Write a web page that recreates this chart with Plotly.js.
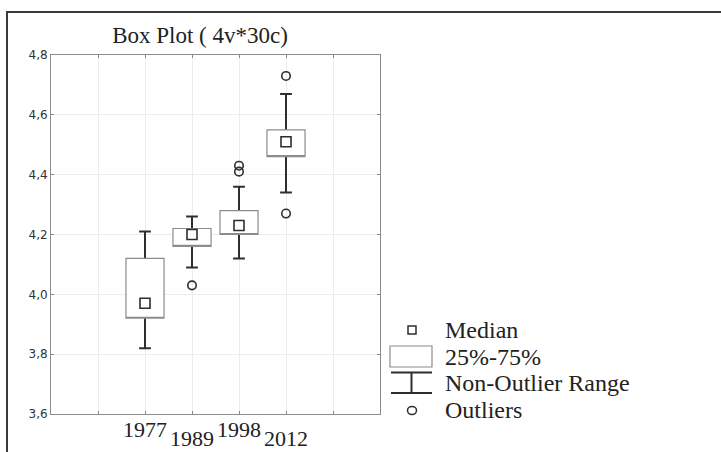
<!DOCTYPE html>
<html>
<head>
<meta charset="utf-8">
<script src="https://cdn.plot.ly/plotly-3.0.1.min.js"></script>
<style>html,body{margin:0;padding:0;background:#fff;}#chart{width:721px;height:452px;}</style>
</head>
<body>
<div id="chart"></div>
<script>
// ---- data ----
const categories = ['1977', '1989', '1998', '2012'];
const q1 = [3.92, 4.16, 4.20, 4.46];
const median = [3.97, 4.20, 4.23, 4.51];
const q3 = [4.12, 4.22, 4.28, 4.55];
const lowerWhisker = [3.82, 4.09, 4.12, 4.34];
const upperWhisker = [4.21, 4.26, 4.36, 4.67];
const outliers = [[], [4.03], [4.41, 4.43], [4.27, 4.73]];
const legendLabels = ['Median', '25%-75%', 'Non-Outlier Range', 'Outliers'];
const titleText = 'Box Plot ( 4v*30c)';

// ---- layout geometry ----
const L = 51, R = 380, T = 55, B = 414, WID = 721, HEI = 452;
const PW = R - L, PH = B - T;
const PX = x => (x - L) / PW;
const PY = y => (B - y) / PH;
const DARK = '#2e2e2e', GRAYBOX = '#8c8c8c';
const serif = 'Liberation Serif, Times New Roman, serif';

const pos = categories.map((_, i) => i);

const outX = [], outY = [];
outliers.forEach((arr, i) => arr.forEach(v => { outX.push(pos[i]); outY.push(v); }));

const traces = [
  { // whiskers: drawn from the median outwards, inner part hidden by the box fill
    type: 'box', x: pos, q1: median, median: median, q3: median,
    lowerfence: lowerWhisker, upperfence: upperWhisker,
    width: 0.5, whiskerwidth: 1.1,
    line: { color: DARK, width: 2 }, fillcolor: '#ffffff',
    hoverinfo: 'skip', showlegend: false
  },
  { // 25%-75% boxes
    type: 'box', x: pos, q1: q1, median: q1, q3: q3,
    lowerfence: q1, upperfence: q3,
    width: 0.81, whiskerwidth: 0,
    line: { color: GRAYBOX, width: 1.2 }, fillcolor: '#ffffff',
    hoverinfo: 'skip', showlegend: false
  },
  { // medians
    type: 'scatter', mode: 'markers', x: pos, y: median,
    marker: { symbol: 'square', size: 10, color: '#ffffff', line: { color: DARK, width: 1.6 } },
    hoverinfo: 'skip', showlegend: false
  },
  { // outliers
    type: 'scatter', mode: 'markers', x: outX, y: outY,
    marker: { symbol: 'circle-open', size: 8.5, color: DARK, line: { color: DARK, width: 1.6 } },
    hoverinfo: 'skip', showlegend: false
  }
];

// staggered category labels
const annotations = categories.map((c, i) => ({
  x: pos[i], xref: 'x', y: i % 2 === 0 ? PY(429.5) : PY(438.5), yref: 'paper',
  text: c, showarrow: false, xanchor: 'center', yanchor: 'middle', borderpad: 0,
  font: { family: serif, size: 22, color: '#222' }
}));

// custom legend
const legTextY = [330, 357, 383, 409.5];
legendLabels.forEach((t, i) => annotations.push({
  x: PX(444), xref: 'paper', y: PY(legTextY[i]), yref: 'paper',
  text: t, showarrow: false, xanchor: 'left', yanchor: 'middle', borderpad: 0,
  font: { family: serif, size: 24, color: '#222' }
}));

const sh = (type, x0, y0, x1, y1, color, width) => ({
  type: type, xref: 'paper', yref: 'paper',
  x0: PX(x0), x1: PX(x1), y0: PY(y0), y1: PY(y1),
  line: { color: color, width: width }, fillcolor: 'rgba(0,0,0,0)'
});

const shapes = [
  // outer frame
  sh('line', 7, 12, 721, 12, '#3a3a3a', 2),
  sh('line', 7, 11, 7, 452, '#3a3a3a', 2),
  // legend symbols
  sh('rect', 408, 326, 416, 334, DARK, 1.5),
  sh('rect', 390, 346, 432, 367, GRAYBOX, 1.2),
  sh('line', 391, 372.5, 432, 372.5, DARK, 2),
  sh('line', 391, 393, 432, 393, DARK, 2),
  sh('line', 411.5, 372.5, 411.5, 393, DARK, 2),
  sh('circle', 407.5, 406.5, 416.5, 414.5, DARK, 1.5)
];

const layout = {
  width: WID, height: HEI, autosize: false,
  margin: { l: L, r: WID - R, t: T, b: HEI - B, pad: 0 },
  paper_bgcolor: '#ffffff', plot_bgcolor: '#ffffff',
  separators: ',.',
  showlegend: false,
  boxmode: 'overlay',
  title: {
    text: titleText, x: 200 / WID, xref: 'container', xanchor: 'center',
    y: 1 - 34.5 / HEI, yref: 'container', yanchor: 'middle',
    font: { family: serif, size: 23, color: '#222' }
  },
  xaxis: {
    range: [-2, 5], tick0: 0, dtick: 1, showticklabels: false,
    showgrid: true, gridcolor: '#ececec', gridwidth: 1, zeroline: false,
    showline: true, linecolor: GRAYBOX, linewidth: 1, mirror: 'ticks',
    ticks: 'inside', ticklen: 3, tickcolor: '#888'
  },
  yaxis: {
    range: [3.6, 4.8], tick0: 3.6, dtick: 0.2, tickformat: '.1f',
    showgrid: true, gridcolor: '#ececec', gridwidth: 1, zeroline: false,
    showline: true, linecolor: GRAYBOX, linewidth: 1, mirror: 'ticks',
    ticks: 'inside', ticklen: 3, tickcolor: '#888',
    tickfont: { family: 'DejaVu Sans, Liberation Sans, sans-serif', size: 12, color: '#333' }
  },
  annotations: annotations,
  shapes: shapes
};

Plotly.newPlot('chart', traces, layout, { staticPlot: true, displayModeBar: false });
</script>
</body>
</html>
